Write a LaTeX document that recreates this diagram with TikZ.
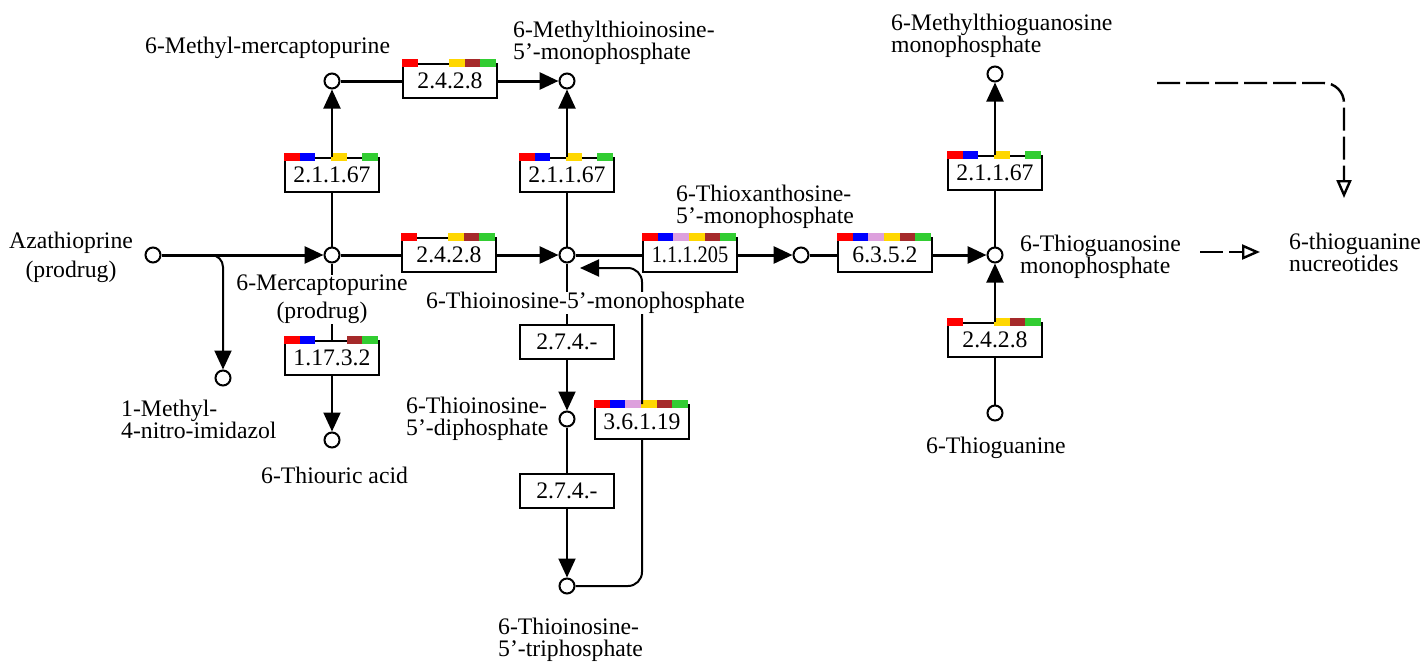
\documentclass[tikz,border=0pt]{standalone}
\usepackage{fontspec}
\usepackage{graphicx}
\setmainfont{Liberation Serif}
\usetikzlibrary{arrows.meta,calc}
\definecolor{kred}{HTML}{FF0000}
\definecolor{kblue}{HTML}{0000FF}
\definecolor{kplum}{HTML}{DDA0DD}
\definecolor{kgold}{HTML}{FFD700}
\definecolor{kbrown}{HTML}{A52A2A}
\definecolor{kgreen}{HTML}{32CD32}
\newcommand\kfont{\fontsize{23.7}{22}\selectfont}
\newcommand\kbars[2]{\foreach \s/\c in {#2}{\fill[\c] ([shift={({(\s-1)*94/6},-4)}]#1.north west) rectangle ++(94/6,8);}}
\tikzset{
  cpd/.style={circle, draw, line width=2pt, fill=white, minimum size=15pt, inner sep=0pt},
  enz/.style={draw, line width=2pt, fill=white, minimum width=94pt, minimum height=34pt, inner sep=0pt},
  lbl/.style={inner sep=0pt, fill=white, align=left},
  rx/.style={line width=2pt},
  rxh/.style={line width=3pt},
  tip/.style={-{Triangle[length=19pt,width=17pt]}},
  otip/.style={-{Triangle[open,length=18pt,width=15pt]}},
  dsh/.style={dash pattern=on 23pt off 6pt, line width=2.4pt},
}
\begin{document}
\begin{tikzpicture}[x=1pt,y=-1pt,font=\kfont]
\useasboundingbox[fill=white] (0,0) rectangle (1422,672);
% compounds
\node[cpd] (aza)   at (153,255) {};
\node[cpd] (mp)    at (332,255) {};
\node[cpd] (mmp)   at (332,81) {};
\node[cpd] (mtimp) at (567,81) {};
\node[cpd] (timp)  at (567,255) {};
\node[cpd] (txmp)  at (801,255) {};
\node[cpd] (tgmp)  at (995,255) {};
\node[cpd] (mtgmp) at (995,74) {};
\node[cpd] (tg)    at (995,413) {};
\node[cpd] (mni)   at (223,378) {};
\node[cpd] (tua)   at (332,440) {};
\node[cpd] (tidp)  at (567,419) {};
\node[cpd] (titp)  at (567,586) {};
% enzymes
\node[enz] (e1)  at (332,175) {2.1.1.67};
\node[enz] (e2)  at (450,81)  {2.4.2.8};
\node[enz] (e3)  at (567,175) {2.1.1.67};
\node[enz] (e4)  at (449,255) {2.4.2.8};
\node[enz] (e5)  at (690,255) {\scalebox{0.86}[1]{1.1.1.205}};
\node[enz] (e6)  at (885,255) {6.3.5.2};
\node[enz] (e7)  at (995,173) {2.1.1.67};
\node[enz] (e8)  at (995,340) {2.4.2.8};
\node[enz] (e9)  at (332,358) {1.17.3.2};
\node[enz] (e10) at (567,342) {2.7.4.-};
\node[enz] (e11) at (567,491) {2.7.4.-};
\node[enz] (e12) at (642,422) {3.6.1.19};
% colour bars
\kbars{e1}{1/kred,2/kblue,4/kgold,6/kgreen}
\kbars{e2}{1/kred,4/kgold,5/kbrown,6/kgreen}
\kbars{e3}{1/kred,2/kblue,4/kgold,6/kgreen}
\kbars{e4}{1/kred,4/kgold,5/kbrown,6/kgreen}
\kbars{e5}{1/kred,2/kblue,3/kplum,4/kgold,5/kbrown,6/kgreen}
\kbars{e6}{1/kred,2/kblue,3/kplum,4/kgold,5/kbrown,6/kgreen}
\kbars{e7}{1/kred,2/kblue,4/kgold,6/kgreen}
\kbars{e8}{1/kred,4/kgold,5/kbrown,6/kgreen}
\kbars{e9}{1/kred,2/kblue,5/kbrown,6/kgreen}
\kbars{e12}{1/kred,2/kblue,3/kplum,4/kgold,5/kbrown,6/kgreen}
% reactions
\draw[rxh,tip] (aza) -- (mp);
\coordinate (br) at (209,255);
\draw[rx,tip,rounded corners=12pt] (br) -| (mni);
\draw[rx] (mp) -- (e1);   \draw[rx,tip] (e1) -- (mmp);
\draw[rxh] (mmp) -- (e2); \draw[rxh,tip] (e2) -- (mtimp);
\draw[rxh] (mp) -- (e4);  \draw[rxh,tip] (e4) -- (timp);
\draw[rx] (timp) -- (e3); \draw[rx,tip] (e3) -- (mtimp);
\draw[rxh] (timp) -- (e5); \draw[rxh,tip] (e5) -- (txmp);
\draw[rxh] (txmp) -- (e6); \draw[rxh,tip] (e6) -- (tgmp);
\draw[rx] (tgmp) -- (e7); \draw[rx,tip] (e7) -- (mtgmp);
\draw[rx] (tg) -- (e8);   \draw[rx,tip] (e8) -- (tgmp);
\draw[rx] (mp) -- (e9);   \draw[rx,tip] (e9) -- (tua);
\draw[rx] (timp) -- (e10); \draw[rx,tip] (e10) -- (tidp);
\draw[rx] (tidp) -- (e11); \draw[rx,tip] (e11) -- (titp);
\coordinate (rt) at (580,268);
\draw[rx,rounded corners=14pt] (titp) -| (e12);
\draw[rx,tip,rounded corners=14pt] (e12) |- (rt);
% dashed links
\coordinate (dA) at (1157,83);
\coordinate (dB) at (1344,198);
\draw[dsh,otip,rounded corners=20pt] (dA) -| (dB);
\coordinate (dC) at (1200,252);
\coordinate (dD) at (1260,252);
\draw[dsh,otip] (dC) -- (dD);
% labels
\node[lbl,anchor=north,align=center] (lAza) at (71,232) {Azathioprine\\[7pt](prodrug)};
\node[lbl,anchor=north west] (lMMP) at (145,37) {6-Methyl-mercaptopurine};
\node[lbl,anchor=north west] (lMTIMP) at (513,21) {6-Methylthioinosine-\\5'-monophosphate};
\node[lbl,anchor=north west] (lTXMP) at (676,185) {6-Thioxanthosine-\\5'-monophosphate};
\node[lbl,anchor=north west] (lMTGMP) at (891,14) {6-Methylthioguanosine\\monophosphate};
\node[lbl,anchor=north west] (lTGMP) at (1020,235) {6-Thioguanosine\\monophosphate};
\node[lbl,anchor=north west] (lTGN) at (1289,233) {6-thioguanine\\nucreotides};
\node[lbl,anchor=north west] (lTG) at (926,437) {6-Thioguanine};
\node[lbl,anchor=north,align=center] (lMP) at (322,275) {6-Mercaptopurine\\[6pt](prodrug)};
\node[lbl,anchor=north west] (lMNI) at (121,400) {1-Methyl-\\4-nitro-imidazol};
\node[lbl,anchor=north west] (lTUA) at (261,467) {6-Thiouric acid};
\node[lbl,anchor=north west] (lTIMP) at (426,292) {6-Thioinosine-5'-monophosphate};
\node[lbl,anchor=north west] (lTIDP) at (406,397) {6-Thioinosine-\\5'-diphosphate};
\node[lbl,anchor=north west] (lTITP) at (498,618) {6-Thioinosine-\\5'-triphosphate};
\end{tikzpicture}
\end{document}
